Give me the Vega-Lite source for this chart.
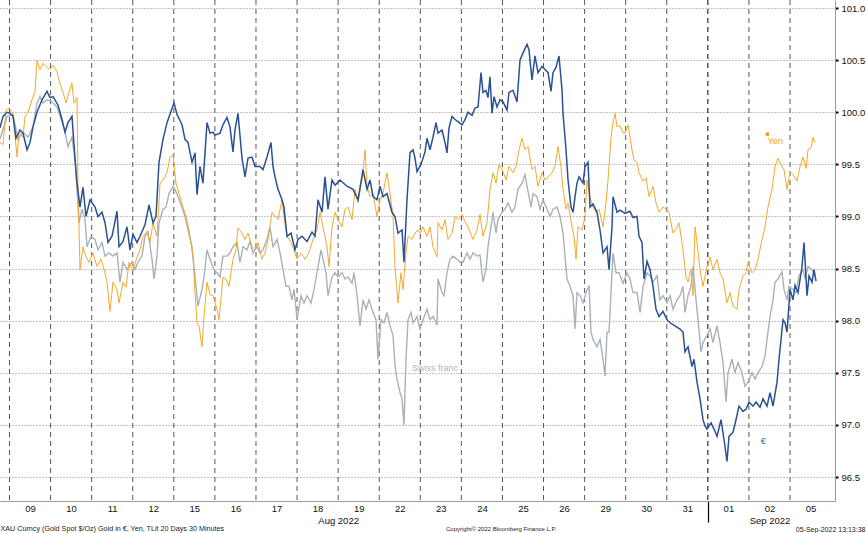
{
"$schema": "https://vega.github.io/schema/vega-lite/v6.json",
"width": 835,
"height": 501,
"autosize": {"type": "none"},
"padding": {"left": 0, "top": 0, "right": 31, "bottom": 32},
"background": "white",
"config": {"view": {"stroke": null}, "font": "Liberation Sans"},
"title": {"text": "Copyright© 2022 Bloomberg Finance L.P.", "orient": "bottom", "anchor": "start", "frame": "group", "dx": 446, "offset": 0, "baseline": "bottom", "fontSize": 6, "fontWeight": "normal", "color": "#222", "font": "Liberation Sans"},
"datasets": {
"days": [{"t":0},{"t":1},{"t":2},{"t":3},{"t":4},{"t":5},{"t":6},{"t":7},{"t":8},{"t":9},{"t":10},{"t":11},{"t":12},{"t":13},{"t":14},{"t":15},{"t":16},{"t":17},{"t":18},{"t":19}],
"eur": [{"t":-0.231,"v":99.85},{"t":-0.158,"v":99.96},{"t":-0.061,"v":100.0},{"t":0.012,"v":99.99},{"t":0.085,"v":99.96},{"t":0.158,"v":99.75},{"t":0.256,"v":99.83},{"t":0.329,"v":99.80},{"t":0.426,"v":99.64},{"t":0.499,"v":99.71},{"t":0.572,"v":99.86},{"t":0.669,"v":100.0},{"t":0.791,"v":100.12},{"t":0.913,"v":100.2},{"t":0.986,"v":100.14},{"t":1.059,"v":100.15},{"t":1.180,"v":100.07},{"t":1.278,"v":99.93},{"t":1.351,"v":99.81},{"t":1.424,"v":99.90},{"t":1.521,"v":99.96},{"t":1.594,"v":99.56},{"t":1.643,"v":99.32},{"t":1.716,"v":99.09},{"t":1.789,"v":99.28},{"t":1.862,"v":99.0},{"t":1.960,"v":99.16},{"t":2.081,"v":99.09},{"t":2.154,"v":99.0},{"t":2.252,"v":99.04},{"t":2.325,"v":98.94},{"t":2.398,"v":98.75},{"t":2.495,"v":98.81},{"t":2.617,"v":99.05},{"t":2.666,"v":98.71},{"t":2.763,"v":98.76},{"t":2.860,"v":98.90},{"t":2.933,"v":98.68},{"t":3.006,"v":98.83},{"t":3.104,"v":98.75},{"t":3.177,"v":98.81},{"t":3.298,"v":98.92},{"t":3.396,"v":99.11},{"t":3.493,"v":98.94},{"t":3.566,"v":99.0},{"t":3.639,"v":99.52},{"t":3.737,"v":99.74},{"t":3.834,"v":99.90},{"t":3.907,"v":99.98},{"t":4.004,"v":100.09},{"t":4.077,"v":99.98},{"t":4.199,"v":99.88},{"t":4.272,"v":99.74},{"t":4.345,"v":99.71},{"t":4.443,"v":99.52},{"t":4.516,"v":99.61},{"t":4.564,"v":99.21},{"t":4.637,"v":99.48},{"t":4.710,"v":99.32},{"t":4.808,"v":99.90},{"t":4.881,"v":99.80},{"t":4.954,"v":99.81},{"t":5.002,"v":99.78},{"t":5.124,"v":99.80},{"t":5.197,"v":99.88},{"t":5.294,"v":99.95},{"t":5.367,"v":99.86},{"t":5.440,"v":99.62},{"t":5.489,"v":99.83},{"t":5.562,"v":99.99},{"t":5.660,"v":99.56},{"t":5.733,"v":99.38},{"t":5.806,"v":99.56},{"t":5.903,"v":99.57},{"t":5.976,"v":99.48},{"t":6.098,"v":99.48},{"t":6.171,"v":99.45},{"t":6.268,"v":99.57},{"t":6.366,"v":99.71},{"t":6.414,"v":99.48},{"t":6.463,"v":99.38},{"t":6.536,"v":99.26},{"t":6.633,"v":99.16},{"t":6.682,"v":99.09},{"t":6.755,"v":98.81},{"t":6.853,"v":98.84},{"t":6.950,"v":98.68},{"t":7.023,"v":98.78},{"t":7.120,"v":98.81},{"t":7.242,"v":98.76},{"t":7.364,"v":98.85},{"t":7.437,"v":98.81},{"t":7.510,"v":99.16},{"t":7.607,"v":99.04},{"t":7.680,"v":99.38},{"t":7.753,"v":99.07},{"t":7.851,"v":99.35},{"t":7.924,"v":99.30},{"t":8.045,"v":99.35},{"t":8.216,"v":99.29},{"t":8.362,"v":99.26},{"t":8.484,"v":99.16},{"t":8.605,"v":99.45},{"t":8.703,"v":99.26},{"t":8.776,"v":99.35},{"t":8.849,"v":99.19},{"t":8.946,"v":99.16},{"t":9.019,"v":99.29},{"t":9.092,"v":99.19},{"t":9.190,"v":99.22},{"t":9.311,"v":99.04},{"t":9.384,"v":99.0},{"t":9.457,"v":98.84},{"t":9.555,"v":98.87},{"t":9.603,"v":98.56},{"t":9.676,"v":99.16},{"t":9.749,"v":99.61},{"t":9.822,"v":99.64},{"t":9.871,"v":99.56},{"t":9.920,"v":99.43},{"t":10.017,"v":99.50},{"t":10.114,"v":99.62},{"t":10.163,"v":99.75},{"t":10.236,"v":99.64},{"t":10.309,"v":99.76},{"t":10.382,"v":99.90},{"t":10.431,"v":99.80},{"t":10.528,"v":99.83},{"t":10.601,"v":99.71},{"t":10.650,"v":99.61},{"t":10.699,"v":99.85},{"t":10.772,"v":99.96},{"t":10.845,"v":99.93},{"t":10.918,"v":99.91},{"t":11.015,"v":99.88},{"t":11.088,"v":99.93},{"t":11.161,"v":100.0},{"t":11.259,"v":99.97},{"t":11.332,"v":100.04},{"t":11.405,"v":100.05},{"t":11.478,"v":100.38},{"t":11.526,"v":100.19},{"t":11.599,"v":100.21},{"t":11.648,"v":100.14},{"t":11.697,"v":100.34},{"t":11.745,"v":99.99},{"t":11.794,"v":100.15},{"t":11.867,"v":100.05},{"t":11.940,"v":100.12},{"t":12.013,"v":100.10},{"t":12.111,"v":100.02},{"t":12.159,"v":100.19},{"t":12.257,"v":100.21},{"t":12.354,"v":100.10},{"t":12.427,"v":100.50},{"t":12.500,"v":100.57},{"t":12.598,"v":100.65},{"t":12.646,"v":100.60},{"t":12.719,"v":100.31},{"t":12.792,"v":100.54},{"t":12.865,"v":100.38},{"t":12.963,"v":100.44},{"t":13.036,"v":100.41},{"t":13.109,"v":100.38},{"t":13.182,"v":100.20},{"t":13.230,"v":100.38},{"t":13.303,"v":100.43},{"t":13.376,"v":100.54},{"t":13.449,"v":100.22},{"t":13.474,"v":99.99},{"t":13.547,"v":99.64},{"t":13.596,"v":99.35},{"t":13.669,"v":99.09},{"t":13.718,"v":99.04},{"t":13.766,"v":99.19},{"t":13.815,"v":99.32},{"t":13.864,"v":99.38},{"t":13.961,"v":99.32},{"t":14.010,"v":99.48},{"t":14.083,"v":99.52},{"t":14.131,"v":99.09},{"t":14.204,"v":99.12},{"t":14.302,"v":99.04},{"t":14.375,"v":98.87},{"t":14.448,"v":98.65},{"t":14.545,"v":98.71},{"t":14.594,"v":98.49},{"t":14.667,"v":98.90},{"t":14.691,"v":99.19},{"t":14.789,"v":99.04},{"t":14.862,"v":99.06},{"t":14.983,"v":99.03},{"t":15.105,"v":99.05},{"t":15.178,"v":98.99},{"t":15.276,"v":99.0},{"t":15.324,"v":98.81},{"t":15.397,"v":98.75},{"t":15.446,"v":98.40},{"t":15.519,"v":98.57},{"t":15.592,"v":98.49},{"t":15.665,"v":98.33},{"t":15.738,"v":98.11},{"t":15.811,"v":98.04},{"t":15.908,"v":98.09},{"t":16.006,"v":98.01},{"t":16.079,"v":97.98},{"t":16.200,"v":97.95},{"t":16.322,"v":97.92},{"t":16.395,"v":97.89},{"t":16.444,"v":97.70},{"t":16.517,"v":97.75},{"t":16.614,"v":97.56},{"t":16.663,"v":97.63},{"t":16.736,"v":97.41},{"t":16.809,"v":97.25},{"t":16.882,"v":97.05},{"t":16.930,"v":96.99},{"t":16.979,"v":96.96},{"t":17.077,"v":97.02},{"t":17.150,"v":96.96},{"t":17.223,"v":96.89},{"t":17.320,"v":97.05},{"t":17.393,"v":96.86},{"t":17.466,"v":96.65},{"t":17.515,"v":96.89},{"t":17.612,"v":96.93},{"t":17.685,"v":97.05},{"t":17.758,"v":97.18},{"t":17.856,"v":97.13},{"t":17.929,"v":97.15},{"t":18.002,"v":97.22},{"t":18.099,"v":97.18},{"t":18.172,"v":97.22},{"t":18.270,"v":97.17},{"t":18.343,"v":97.25},{"t":18.440,"v":97.18},{"t":18.513,"v":97.31},{"t":18.586,"v":97.18},{"t":18.684,"v":97.41},{"t":18.732,"v":97.63},{"t":18.830,"v":98.01},{"t":18.878,"v":97.98},{"t":18.927,"v":97.89},{"t":19.000,"v":98.30},{"t":19.073,"v":98.20},{"t":19.122,"v":98.34},{"t":19.195,"v":98.27},{"t":19.292,"v":98.52},{"t":19.341,"v":98.75},{"t":19.414,"v":98.24},{"t":19.463,"v":98.43},{"t":19.536,"v":98.37},{"t":19.584,"v":98.49},{"t":19.633,"v":98.38}],
"yen": [{"t":-0.231,"v":99.71},{"t":-0.158,"v":99.69},{"t":-0.085,"v":100.02},{"t":-0.012,"v":100.04},{"t":0.085,"v":99.98},{"t":0.183,"v":99.57},{"t":0.231,"v":99.80},{"t":0.329,"v":99.76},{"t":0.377,"v":99.96},{"t":0.450,"v":100.0},{"t":0.548,"v":100.12},{"t":0.621,"v":100.2},{"t":0.669,"v":100.5},{"t":0.742,"v":100.41},{"t":0.815,"v":100.47},{"t":0.913,"v":100.43},{"t":0.986,"v":100.41},{"t":1.059,"v":100.45},{"t":1.156,"v":100.39},{"t":1.205,"v":100.31},{"t":1.302,"v":100.19},{"t":1.375,"v":100.09},{"t":1.448,"v":100.19},{"t":1.521,"v":100.28},{"t":1.570,"v":100.09},{"t":1.643,"v":100.14},{"t":1.667,"v":99.32},{"t":1.716,"v":98.49},{"t":1.789,"v":98.71},{"t":1.862,"v":98.61},{"t":1.935,"v":98.56},{"t":2.033,"v":98.65},{"t":2.130,"v":98.52},{"t":2.227,"v":98.59},{"t":2.325,"v":98.46},{"t":2.373,"v":98.37},{"t":2.446,"v":98.09},{"t":2.520,"v":98.37},{"t":2.617,"v":98.30},{"t":2.666,"v":98.17},{"t":2.763,"v":98.37},{"t":2.836,"v":98.32},{"t":2.909,"v":98.56},{"t":3.006,"v":98.48},{"t":3.104,"v":98.61},{"t":3.177,"v":98.68},{"t":3.250,"v":98.81},{"t":3.347,"v":98.86},{"t":3.420,"v":98.75},{"t":3.493,"v":98.94},{"t":3.591,"v":98.81},{"t":3.664,"v":99.32},{"t":3.737,"v":99.35},{"t":3.834,"v":99.42},{"t":3.907,"v":99.57},{"t":3.980,"v":99.59},{"t":4.053,"v":99.32},{"t":4.126,"v":99.22},{"t":4.224,"v":99.09},{"t":4.297,"v":99.0},{"t":4.370,"v":98.87},{"t":4.467,"v":98.61},{"t":4.516,"v":98.27},{"t":4.564,"v":97.98},{"t":4.613,"v":97.95},{"t":4.686,"v":97.75},{"t":4.735,"v":98.04},{"t":4.808,"v":98.37},{"t":4.881,"v":98.25},{"t":4.954,"v":98.24},{"t":5.051,"v":98.11},{"t":5.100,"v":98.01},{"t":5.197,"v":98.42},{"t":5.270,"v":98.40},{"t":5.343,"v":98.33},{"t":5.440,"v":98.59},{"t":5.513,"v":98.68},{"t":5.562,"v":98.89},{"t":5.660,"v":98.84},{"t":5.733,"v":98.78},{"t":5.806,"v":98.84},{"t":5.903,"v":98.71},{"t":5.976,"v":98.68},{"t":6.049,"v":98.75},{"t":6.147,"v":98.59},{"t":6.220,"v":98.65},{"t":6.293,"v":98.78},{"t":6.390,"v":99.04},{"t":6.463,"v":99.0},{"t":6.536,"v":98.97},{"t":6.633,"v":99.16},{"t":6.682,"v":99.0},{"t":6.755,"v":98.81},{"t":6.853,"v":98.75},{"t":6.926,"v":98.68},{"t":6.999,"v":98.59},{"t":7.096,"v":98.65},{"t":7.193,"v":98.59},{"t":7.291,"v":98.65},{"t":7.388,"v":98.78},{"t":7.485,"v":98.87},{"t":7.559,"v":99.04},{"t":7.632,"v":98.90},{"t":7.729,"v":98.71},{"t":7.778,"v":98.52},{"t":7.851,"v":98.90},{"t":7.924,"v":99.04},{"t":7.997,"v":98.97},{"t":8.094,"v":98.90},{"t":8.167,"v":99.07},{"t":8.240,"v":99.09},{"t":8.338,"v":98.97},{"t":8.411,"v":99.26},{"t":8.484,"v":99.13},{"t":8.581,"v":99.35},{"t":8.654,"v":99.64},{"t":8.703,"v":99.29},{"t":8.776,"v":99.19},{"t":8.849,"v":99.22},{"t":8.946,"v":99.0},{"t":9.019,"v":99.16},{"t":9.092,"v":99.22},{"t":9.190,"v":99.42},{"t":9.263,"v":99.22},{"t":9.336,"v":99.0},{"t":9.384,"v":98.52},{"t":9.457,"v":98.17},{"t":9.530,"v":98.46},{"t":9.579,"v":98.30},{"t":9.652,"v":98.65},{"t":9.701,"v":98.81},{"t":9.798,"v":98.78},{"t":9.871,"v":98.84},{"t":9.944,"v":98.87},{"t":9.993,"v":98.84},{"t":10.066,"v":98.90},{"t":10.163,"v":98.81},{"t":10.236,"v":98.90},{"t":10.309,"v":98.71},{"t":10.407,"v":98.61},{"t":10.431,"v":98.94},{"t":10.528,"v":98.87},{"t":10.601,"v":98.97},{"t":10.674,"v":98.78},{"t":10.772,"v":98.84},{"t":10.845,"v":99.0},{"t":10.918,"v":98.97},{"t":11.015,"v":99.02},{"t":11.088,"v":98.95},{"t":11.161,"v":98.90},{"t":11.283,"v":98.78},{"t":11.381,"v":98.87},{"t":11.454,"v":99.02},{"t":11.526,"v":98.81},{"t":11.624,"v":98.94},{"t":11.697,"v":99.26},{"t":11.770,"v":99.42},{"t":11.843,"v":99.32},{"t":11.916,"v":99.50},{"t":12.013,"v":99.43},{"t":12.086,"v":99.35},{"t":12.159,"v":99.48},{"t":12.257,"v":99.42},{"t":12.330,"v":99.48},{"t":12.403,"v":99.64},{"t":12.476,"v":99.75},{"t":12.549,"v":99.64},{"t":12.622,"v":99.67},{"t":12.719,"v":99.45},{"t":12.792,"v":99.48},{"t":12.865,"v":99.29},{"t":12.963,"v":99.42},{"t":13.036,"v":99.35},{"t":13.109,"v":99.38},{"t":13.206,"v":99.42},{"t":13.279,"v":99.48},{"t":13.352,"v":99.67},{"t":13.425,"v":99.48},{"t":13.474,"v":99.26},{"t":13.547,"v":99.07},{"t":13.596,"v":99.13},{"t":13.693,"v":98.90},{"t":13.742,"v":98.81},{"t":13.791,"v":98.59},{"t":13.839,"v":98.90},{"t":13.937,"v":98.87},{"t":14.010,"v":99.0},{"t":14.059,"v":99.35},{"t":14.131,"v":99.19},{"t":14.204,"v":99.09},{"t":14.277,"v":99.04},{"t":14.350,"v":99.07},{"t":14.448,"v":98.90},{"t":14.521,"v":99.13},{"t":14.570,"v":99.35},{"t":14.643,"v":99.76},{"t":14.691,"v":99.90},{"t":14.740,"v":99.99},{"t":14.789,"v":99.86},{"t":14.862,"v":99.87},{"t":14.935,"v":99.80},{"t":14.983,"v":99.80},{"t":15.057,"v":99.88},{"t":15.154,"v":99.64},{"t":15.203,"v":99.54},{"t":15.276,"v":99.52},{"t":15.324,"v":99.42},{"t":15.422,"v":99.34},{"t":15.495,"v":99.37},{"t":15.568,"v":99.19},{"t":15.665,"v":99.29},{"t":15.738,"v":99.13},{"t":15.811,"v":99.04},{"t":15.908,"v":99.09},{"t":15.981,"v":99.07},{"t":16.054,"v":99.04},{"t":16.152,"v":98.84},{"t":16.249,"v":98.90},{"t":16.298,"v":98.94},{"t":16.395,"v":98.68},{"t":16.468,"v":98.42},{"t":16.517,"v":98.37},{"t":16.590,"v":98.49},{"t":16.639,"v":98.24},{"t":16.687,"v":98.90},{"t":16.736,"v":98.75},{"t":16.809,"v":98.49},{"t":16.882,"v":98.33},{"t":16.979,"v":98.52},{"t":17.052,"v":98.61},{"t":17.125,"v":98.49},{"t":17.223,"v":98.59},{"t":17.296,"v":98.46},{"t":17.369,"v":98.40},{"t":17.466,"v":98.17},{"t":17.539,"v":98.27},{"t":17.612,"v":98.14},{"t":17.710,"v":98.11},{"t":17.758,"v":98.30},{"t":17.856,"v":98.43},{"t":17.929,"v":98.46},{"t":17.977,"v":98.56},{"t":18.075,"v":98.46},{"t":18.148,"v":98.49},{"t":18.221,"v":98.59},{"t":18.318,"v":98.78},{"t":18.391,"v":98.90},{"t":18.464,"v":99.09},{"t":18.562,"v":99.26},{"t":18.635,"v":99.48},{"t":18.708,"v":99.56},{"t":18.805,"v":99.48},{"t":18.854,"v":99.45},{"t":18.927,"v":99.26},{"t":19.000,"v":99.43},{"t":19.073,"v":99.40},{"t":19.171,"v":99.34},{"t":19.244,"v":99.48},{"t":19.317,"v":99.57},{"t":19.390,"v":99.46},{"t":19.438,"v":99.64},{"t":19.511,"v":99.66},{"t":19.560,"v":99.76},{"t":19.609,"v":99.71}],
"chf": [{"t":-0.231,"v":99.74},{"t":-0.061,"v":99.96},{"t":0.085,"v":99.98},{"t":0.207,"v":99.74},{"t":0.329,"v":99.81},{"t":0.450,"v":99.76},{"t":0.572,"v":99.86},{"t":0.669,"v":100.09},{"t":0.742,"v":100.15},{"t":0.815,"v":100.09},{"t":0.913,"v":100.12},{"t":1.035,"v":100.10},{"t":1.156,"v":100.05},{"t":1.278,"v":99.91},{"t":1.351,"v":99.81},{"t":1.424,"v":99.67},{"t":1.521,"v":99.76},{"t":1.594,"v":99.54},{"t":1.643,"v":99.26},{"t":1.692,"v":98.94},{"t":1.765,"v":99.07},{"t":1.838,"v":98.97},{"t":1.887,"v":98.71},{"t":1.984,"v":98.81},{"t":2.081,"v":98.78},{"t":2.154,"v":98.68},{"t":2.252,"v":98.75},{"t":2.325,"v":98.62},{"t":2.422,"v":98.65},{"t":2.520,"v":98.62},{"t":2.617,"v":98.65},{"t":2.690,"v":98.37},{"t":2.763,"v":98.56},{"t":2.860,"v":98.49},{"t":2.982,"v":98.56},{"t":3.055,"v":98.49},{"t":3.128,"v":98.56},{"t":3.225,"v":98.62},{"t":3.298,"v":98.81},{"t":3.371,"v":98.85},{"t":3.469,"v":98.59},{"t":3.518,"v":98.40},{"t":3.591,"v":98.62},{"t":3.639,"v":98.94},{"t":3.737,"v":99.07},{"t":3.810,"v":99.09},{"t":3.883,"v":99.22},{"t":3.980,"v":99.29},{"t":4.029,"v":99.26},{"t":4.102,"v":99.19},{"t":4.199,"v":99.09},{"t":4.272,"v":99.0},{"t":4.345,"v":98.87},{"t":4.443,"v":98.71},{"t":4.516,"v":98.42},{"t":4.589,"v":98.14},{"t":4.686,"v":98.30},{"t":4.735,"v":98.42},{"t":4.808,"v":98.68},{"t":4.905,"v":98.56},{"t":4.978,"v":98.49},{"t":5.051,"v":98.46},{"t":5.124,"v":98.42},{"t":5.197,"v":98.62},{"t":5.294,"v":98.62},{"t":5.367,"v":98.65},{"t":5.440,"v":98.71},{"t":5.538,"v":98.75},{"t":5.611,"v":98.56},{"t":5.684,"v":98.71},{"t":5.781,"v":98.68},{"t":5.854,"v":98.76},{"t":5.928,"v":98.65},{"t":6.025,"v":98.71},{"t":6.098,"v":98.65},{"t":6.171,"v":98.68},{"t":6.268,"v":98.78},{"t":6.341,"v":98.90},{"t":6.414,"v":98.71},{"t":6.512,"v":98.78},{"t":6.585,"v":98.65},{"t":6.658,"v":98.49},{"t":6.731,"v":98.33},{"t":6.804,"v":98.33},{"t":6.877,"v":98.20},{"t":6.926,"v":98.30},{"t":6.999,"v":98.01},{"t":7.096,"v":98.24},{"t":7.169,"v":98.17},{"t":7.242,"v":98.24},{"t":7.340,"v":98.17},{"t":7.413,"v":98.30},{"t":7.485,"v":98.46},{"t":7.583,"v":98.68},{"t":7.632,"v":98.59},{"t":7.705,"v":98.46},{"t":7.753,"v":98.24},{"t":7.851,"v":98.42},{"t":7.924,"v":98.46},{"t":7.997,"v":98.42},{"t":8.094,"v":98.46},{"t":8.167,"v":98.40},{"t":8.240,"v":98.42},{"t":8.338,"v":98.36},{"t":8.387,"v":98.46},{"t":8.460,"v":98.24},{"t":8.533,"v":97.95},{"t":8.605,"v":98.20},{"t":8.679,"v":98.11},{"t":8.752,"v":98.20},{"t":8.849,"v":98.08},{"t":8.922,"v":98.01},{"t":8.971,"v":97.63},{"t":9.044,"v":98.01},{"t":9.117,"v":97.98},{"t":9.190,"v":98.08},{"t":9.263,"v":97.95},{"t":9.336,"v":97.86},{"t":9.384,"v":97.57},{"t":9.433,"v":97.44},{"t":9.506,"v":97.31},{"t":9.555,"v":97.25},{"t":9.603,"v":97.0},{"t":9.652,"v":97.63},{"t":9.701,"v":98.01},{"t":9.774,"v":98.08},{"t":9.822,"v":97.98},{"t":9.920,"v":98.04},{"t":9.993,"v":97.92},{"t":10.066,"v":98.01},{"t":10.163,"v":98.11},{"t":10.236,"v":98.01},{"t":10.309,"v":98.04},{"t":10.407,"v":97.96},{"t":10.431,"v":98.40},{"t":10.528,"v":98.27},{"t":10.577,"v":98.24},{"t":10.650,"v":98.46},{"t":10.723,"v":98.59},{"t":10.796,"v":98.62},{"t":10.893,"v":98.59},{"t":10.967,"v":98.56},{"t":11.040,"v":98.56},{"t":11.137,"v":98.65},{"t":11.210,"v":98.59},{"t":11.283,"v":98.65},{"t":11.381,"v":98.62},{"t":11.454,"v":98.63},{"t":11.526,"v":98.37},{"t":11.599,"v":98.49},{"t":11.648,"v":98.71},{"t":11.721,"v":98.90},{"t":11.770,"v":99.04},{"t":11.843,"v":98.84},{"t":11.891,"v":98.97},{"t":11.989,"v":99.04},{"t":12.062,"v":99.07},{"t":12.135,"v":99.13},{"t":12.232,"v":99.04},{"t":12.305,"v":99.09},{"t":12.378,"v":99.26},{"t":12.476,"v":99.32},{"t":12.549,"v":99.40},{"t":12.598,"v":99.29},{"t":12.695,"v":99.09},{"t":12.744,"v":99.22},{"t":12.841,"v":99.19},{"t":12.914,"v":99.07},{"t":12.987,"v":99.16},{"t":13.085,"v":99.07},{"t":13.158,"v":99.0},{"t":13.230,"v":99.07},{"t":13.328,"v":99.09},{"t":13.401,"v":99.0},{"t":13.474,"v":98.84},{"t":13.523,"v":98.62},{"t":13.571,"v":98.40},{"t":13.644,"v":98.33},{"t":13.718,"v":98.24},{"t":13.766,"v":97.92},{"t":13.815,"v":98.27},{"t":13.888,"v":98.24},{"t":13.961,"v":98.17},{"t":14.059,"v":98.30},{"t":14.107,"v":98.33},{"t":14.156,"v":97.89},{"t":14.204,"v":97.82},{"t":14.302,"v":97.75},{"t":14.375,"v":97.82},{"t":14.448,"v":97.63},{"t":14.497,"v":97.47},{"t":14.545,"v":97.89},{"t":14.594,"v":97.89},{"t":14.643,"v":98.27},{"t":14.691,"v":98.65},{"t":14.764,"v":98.46},{"t":14.838,"v":98.46},{"t":14.935,"v":98.36},{"t":15.032,"v":98.46},{"t":15.105,"v":98.40},{"t":15.178,"v":98.27},{"t":15.276,"v":98.27},{"t":15.349,"v":98.08},{"t":15.422,"v":98.33},{"t":15.519,"v":98.46},{"t":15.592,"v":98.43},{"t":15.665,"v":98.37},{"t":15.762,"v":98.43},{"t":15.835,"v":98.20},{"t":15.908,"v":98.24},{"t":16.006,"v":98.17},{"t":16.079,"v":98.24},{"t":16.152,"v":98.11},{"t":16.249,"v":98.20},{"t":16.322,"v":98.24},{"t":16.395,"v":98.33},{"t":16.444,"v":98.08},{"t":16.517,"v":98.24},{"t":16.590,"v":98.33},{"t":16.639,"v":98.52},{"t":16.712,"v":98.20},{"t":16.760,"v":98.01},{"t":16.833,"v":97.70},{"t":16.882,"v":97.79},{"t":16.979,"v":97.86},{"t":17.052,"v":97.92},{"t":17.125,"v":97.79},{"t":17.223,"v":97.95},{"t":17.296,"v":97.79},{"t":17.369,"v":97.60},{"t":17.442,"v":97.22},{"t":17.491,"v":97.50},{"t":17.588,"v":97.63},{"t":17.661,"v":97.50},{"t":17.734,"v":97.60},{"t":17.831,"v":97.50},{"t":17.904,"v":97.37},{"t":17.977,"v":97.41},{"t":18.075,"v":97.50},{"t":18.148,"v":97.44},{"t":18.221,"v":97.50},{"t":18.318,"v":97.56},{"t":18.391,"v":97.66},{"t":18.440,"v":97.82},{"t":18.513,"v":98.04},{"t":18.586,"v":98.20},{"t":18.635,"v":98.37},{"t":18.708,"v":98.40},{"t":18.805,"v":98.47},{"t":18.854,"v":98.30},{"t":18.927,"v":98.20},{"t":18.976,"v":98.33},{"t":19.073,"v":98.30},{"t":19.146,"v":98.27},{"t":19.219,"v":98.43},{"t":19.317,"v":98.49},{"t":19.365,"v":98.40},{"t":19.438,"v":98.52},{"t":19.536,"v":98.49},{"t":19.609,"v":98.43}],
"marker": [{"t":18.45,"v":99.79}],
"notes": [{"t":18.46,"v":99.72,"label":"Yen","series":"Yen"},{"t":18.29,"v":96.85,"label":"€","series":"EUR"},{"t":9.80,"v":97.55,"label":"Swiss franc","series":"CHF"}]
},
"encoding": {
  "x": {"field": "t", "type": "quantitative",
    "scale": {"domain": [-0.2313, 20.095], "nice": false, "zero": false},
    "axis": {
      "values": [0.5,1.5,2.5,3.5,4.5,5.5,6.5,7.5,8.5,9.5,10.5,11.5,12.5,13.5,14.5,15.5,16.5,17.5,18.5,19.5,8,17],
      "labelExpr": "datum.value == 8 ? ['', 'Aug 2022'] : datum.value == 17 ? '' : datum.value == 18.5 ? ['02', 'Sep 2022'] : ['09','10','11','12','15','16','17','18','19','22','23','24','25','26','29','30','31','01','02','05'][floor(datum.value)]",
      "grid": false,
      "domainColor": "#999", "domainWidth": 1,
      "ticks": true, "tickSize": 21, "tickColor": "#000", "tickWidth": 1.2,
      "tickOpacity": {"condition": {"test": "datum.value == 17", "value": 1}, "value": 0},
      "labelPadding": -19,
      "labelFont": "Liberation Sans", "labelFontSize": 9.5, "labelColor": "#111", "labelLineHeight": 12,
      "labelOverlap": false, "labelFlush": false, "labelBound": false,
      "title": "XAU Curncy (Gold Spot  $/Oz) Gold in €, Yen, TLit 20 Days 30 Minutes",
      "titleAnchor": "start", "titleAlign": "left", "titleFont": "Liberation Sans", "titleFontSize": 7.2, "titleFontWeight": "normal", "titleColor": "#222", "titlePadding": 0
    }
  }
},
"layer": [
  {"data": {"name": "days"},
   "mark": {"type": "rule", "strokeDash": [5, 4], "strokeWidth": 1},
   "encoding": {"color": {"condition": {"test": "datum.t == 17", "value": "#000"}, "value": "#555"}}},
  {"encoding": {
     "y": {"field": "v", "type": "quantitative",
       "scale": {"domain": [96.27, 101.077], "nice": false, "zero": false},
       "axis": {"orient": "right", "values": [96.5,97.0,97.5,98.0,98.5,99.0,99.5,100.0,100.5,101.0], "format": ".1f",
         "grid": true, "gridDash": [1, 2], "gridColor": "#888", "gridWidth": 1,
         "domainColor": "#999", "domainWidth": 1, "tickColor": "#000", "tickSize": 3, "tickWidth": 2,
         "labelPadding": 3, "labelFont": "Liberation Sans", "labelFontSize": 9.5, "labelColor": "#111",
         "title": "05-Sep-2022 13:13:38", "titleAngle": 0, "titleAlign": "right", "titleBaseline": "bottom",
         "titleX": 30, "titleY": 532, "titleFont": "Liberation Sans", "titleFontSize": 7, "titleFontWeight": "normal", "titleColor": "#222"}}
   },
   "layer": [
     {"data": {"name": "chf"}, "mark": {"type": "line", "color": "#a9b1b9", "strokeWidth": 1.4}},
     {"data": {"name": "yen"}, "mark": {"type": "line", "color": "#f7a82a", "strokeWidth": 1}},
     {"data": {"name": "eur"}, "mark": {"type": "line", "color": "#2a5192", "strokeWidth": 1.5}},
     {"data": {"name": "marker"}, "mark": {"type": "square", "size": 10, "color": "#f08c00", "opacity": 1, "filled": true}},
     {"data": {"name": "notes"}, "mark": {"type": "text", "align": "left", "baseline": "middle", "fontSize": 9, "font": "Liberation Sans"},
      "encoding": {"text": {"field": "label"},
        "color": {"field": "series", "type": "nominal", "scale": {"domain": ["Yen", "EUR", "CHF"], "range": ["#f39c1a", "#3c63a8", "#aeb4ba"]}, "legend": null}}}
   ]
  }
]
}
